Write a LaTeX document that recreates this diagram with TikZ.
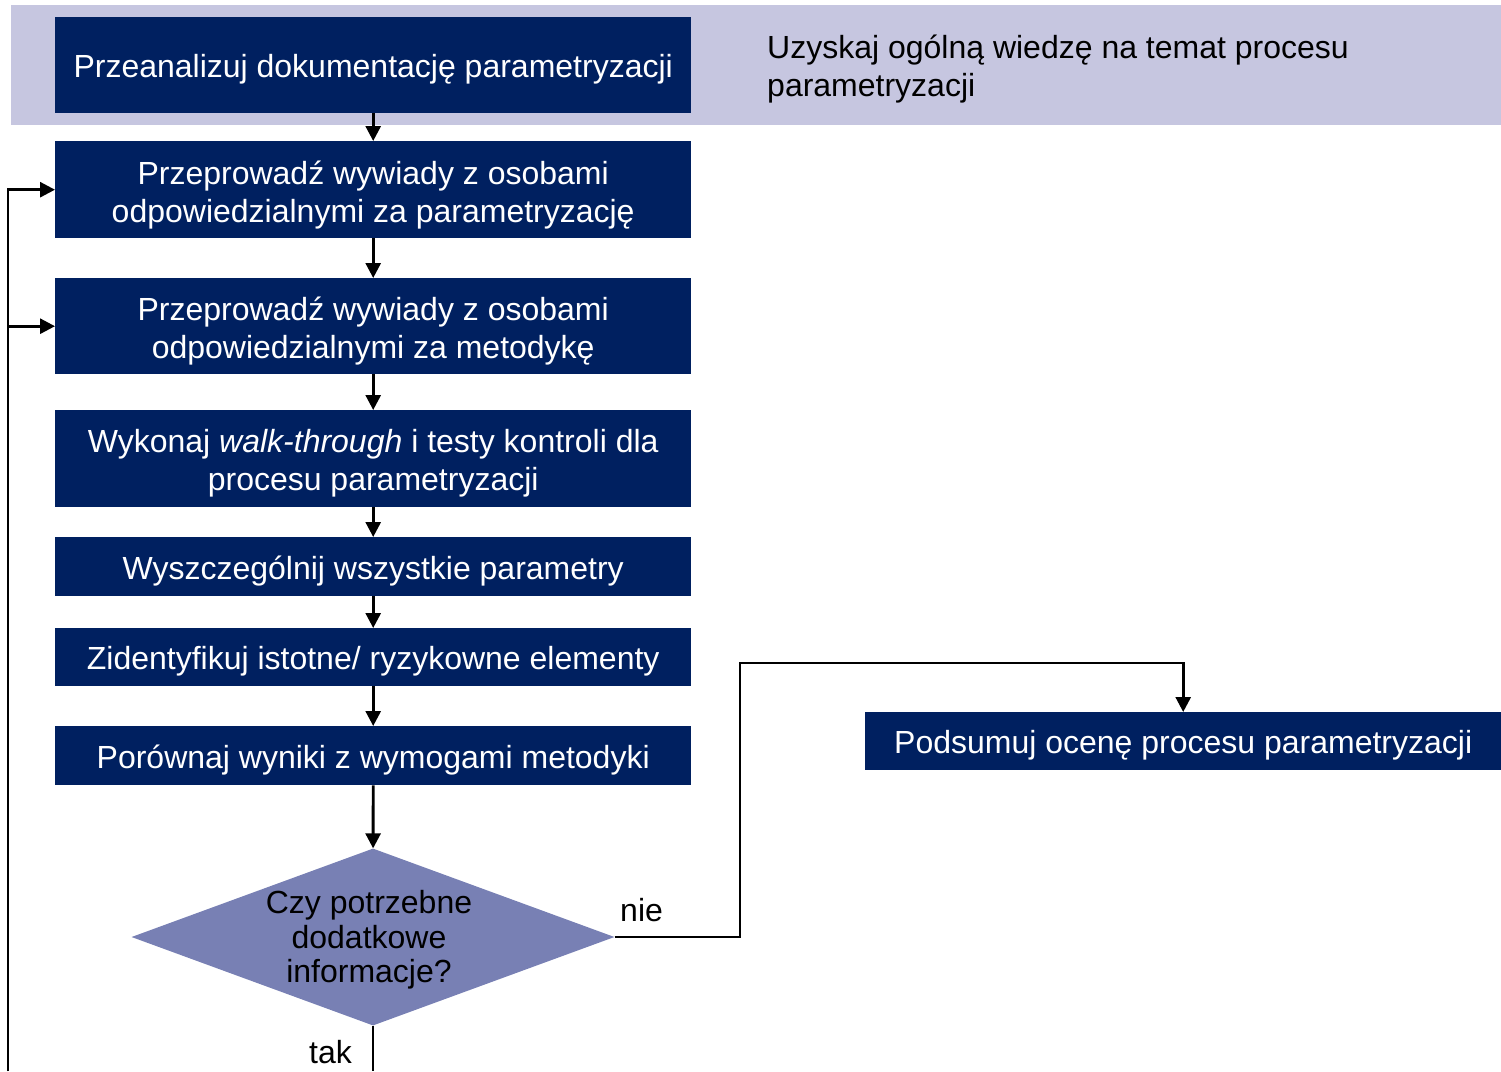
\documentclass[tikz,border=0pt]{standalone}
\usepackage{fontspec}
\setmainfont{Liberation Sans}
\usetikzlibrary{arrows.meta,shapes.geometric}
\definecolor{navy}{RGB}{0,32,96}
\definecolor{band}{RGB}{198,198,224}
\definecolor{decis}{RGB}{120,128,180}
\begin{document}
\begin{tikzpicture}[x=1pt,y=-1pt,
  txt/.style={font=\fontsize{32}{38}\selectfont},
  stepbox/.style={txt,fill=navy,text=white,minimum width=636pt,inner sep=0pt,align=center,anchor=north west,
    execute at begin node={\rule{0pt}{32.7pt}},
    execute at end node={\rule[-8pt]{0pt}{8pt}}},
  boxtext/.style={txt,text=white,align=center,inner sep=0pt},
  link/.style={line width=2.8pt,-{Triangle[length=15pt,width=15pt]}},
  plain/.style={line width=2.8pt}]
\useasboundingbox (0,0) rectangle (1501,1071);
% header band
\fill[band] (11,5) rectangle (1501,125);
\node[txt,anchor=north west,align=left,inner sep=0pt] (goal) at (767,35)
  {Uzyskaj ogólną wiedzę na temat procesu\\parametryzacji};
% process steps
\node[stepbox,minimum height=96pt] (s1) at (55,17) {Przeanalizuj dokumentację parametryzacji};
\node[stepbox,minimum height=97pt] (s2) at (55,141) {};
\node[boxtext,yshift=-5pt] (s2t) at (s2.center) {Przeprowadź wywiady z osobami\\odpowiedzialnymi za parametryzację};
\node[stepbox,minimum height=96pt] (s3) at (55,278) {};
\node[boxtext,yshift=-5pt] (s3t) at (s3.center) {Przeprowadź wywiady z osobami\\odpowiedzialnymi za metodykę};
\node[stepbox,minimum height=97pt] (s4) at (55,410) {};
\node[boxtext,yshift=-5pt] (s4t) at (s4.center) {Wykonaj \textit{walk-through} i testy kontroli dla\\procesu parametryzacji};
\node[stepbox,minimum height=59pt] (s5) at (55,537) {Wyszczególnij wszystkie parametry};
\node[stepbox,minimum height=58pt] (s6) at (55,628) {Zidentyfikuj istotne/ ryzykowne elementy};
\node[stepbox,minimum height=59pt] (s7) at (55,726) {Porównaj wyniki z wymogami metodyki};
\node[stepbox,minimum height=58pt] (sum) at (865,712) {Podsumuj ocenę procesu parametryzacji};
% decision
\node[diamond,fill=decis,inner sep=0pt,minimum width=483pt,minimum height=177pt,aspect=2.73] (dec) at (373,937) {};
\node[txt,align=center,inner sep=0pt,font=\fontsize{32}{34.5}\selectfont] (dectxt) at (369,940) {Czy potrzebne\\dodatkowe\\informacje?};
% connectors
\draw[link] (s1) -- (s2);
\draw[link] (s2) -- (s3);
\draw[link] (s3) -- (s4);
\draw[link] (s4) -- (s5);
\draw[link] (s5) -- (s6);
\draw[link] (s6) -- (s7);
\draw[link] (s7) -- (dec);
\coordinate (bend) at (740,663);
\draw[link] (dec.east) -| (bend) -| (sum.north);
\node[txt,anchor=base west,inner sep=0pt] (nie) at (620,921) {nie};
\coordinate (takend) at (373,1071);
\draw[plain] (dec.south) -- (takend);
\node[txt,anchor=base east,inner sep=0pt] (tak) at (352,1063) {tak};
\coordinate (loopend) at (8,1071);
\draw[link] (loopend) |- (s2.west);
\draw[link] (loopend) |- (s3.west);
\end{tikzpicture}
\end{document}
